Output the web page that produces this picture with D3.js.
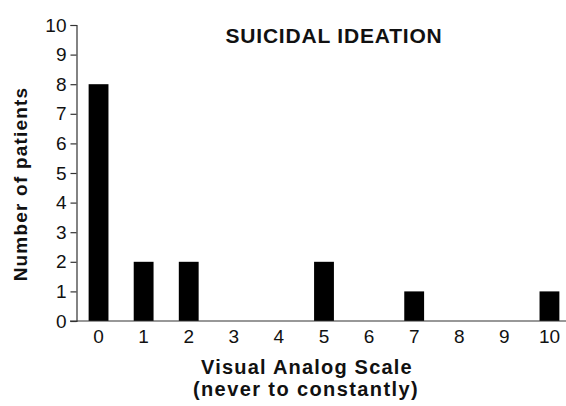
<!DOCTYPE html>
<html>
<head>
<meta charset="utf-8">
<script src="https://d3js.org/d3.v7.min.js"></script>
<style>
  body { margin: 0; background: #fff; }
  text { font-family: "Liberation Sans", Arial, sans-serif; }
</style>
</head>
<body>
<div id="chart"></div>
<script>
// data
var scores = ["0", "1", "2", "3", "4", "5", "6", "7", "8", "9", "10"]
var patients = [8, 2, 2, 0, 0, 2, 0, 1, 0, 0, 1]
var yTicks = [0, 1, 2, 3, 4, 5, 6, 7, 8, 9, 10]

var width = 566,
    height = 406

var svg = d3.select("#chart")
  .append("svg")
    .attr("width", width)
    .attr("height", height)

var x = d3.scaleBand()
    .domain(scores)
    .range([76, 572])
    .paddingInner(0.56)
    .paddingOuter(0.28)

var y = d3.scaleLinear()
    .domain([0, 10])
    .range([321, 25])

// bars
svg.selectAll(".bar")
  .data(scores)
  .enter()
  .append("rect")
    .attr("class", "bar")
    .attr("x", d => x(d))
    .attr("width", x.bandwidth())
    .attr("y", (d, i) => y(patients[i]))
    .attr("height", (d, i) => y(0) - y(patients[i]))
    .attr("fill", "#000")

// y axis
var yAxis = svg.append("g")
    .attr("transform", "translate(76.5,0)")
    .call(d3.axisLeft(y).tickValues(yTicks).tickSize(6).tickPadding(4))
yAxis.select(".domain").attr("stroke", "#333").attr("stroke-width", 1.2)
yAxis.selectAll(".tick line").attr("stroke", "#333").attr("stroke-width", 1.2)
yAxis.selectAll("text")
    .style("font-size", "19px")
    .attr("fill", "#111")

// x axis line (extends a bit left of y axis)
svg.append("line")
    .attr("x1", 70).attr("x2", 566)
    .attr("y1", y(0)).attr("y2", y(0))
    .attr("stroke", "#333").attr("stroke-width", 1.2)

// x tick labels
svg.selectAll(".xlab")
  .data(scores)
  .enter()
  .append("text")
    .attr("class", "xlab")
    .attr("x", d => x(d) + x.bandwidth() / 2)
    .attr("y", 343)
    .attr("text-anchor", "middle")
    .style("font-size", "19px")
    .attr("fill", "#111")
    .text(d => d)

// axis titles
svg.append("text")
    .attr("x", 307).attr("y", 374)
    .attr("text-anchor", "middle")
    .style("font-size", "20px")
    .style("font-weight", "bold")
    .style("letter-spacing", "1.2px")
    .attr("fill", "#111")
    .text("Visual Analog Scale")

svg.append("text")
    .attr("x", 306).attr("y", 396)
    .attr("text-anchor", "middle")
    .style("font-size", "20px")
    .style("font-weight", "bold")
    .style("letter-spacing", "1.4px")
    .attr("fill", "#111")
    .text("(never to constantly)")

svg.append("text")
    .attr("transform", "translate(27,184) rotate(-90)")
    .attr("text-anchor", "middle")
    .style("font-size", "19px")
    .style("font-weight", "bold")
    .style("letter-spacing", "1.2px")
    .attr("fill", "#111")
    .text("Number of patients")

// chart title
svg.append("text")
    .attr("x", 334).attr("y", 43)
    .attr("text-anchor", "middle")
    .style("font-size", "21px")
    .style("font-weight", "bold")
    .style("letter-spacing", "0.8px")
    .attr("fill", "#111")
    .text("SUICIDAL IDEATION")
</script>
</body>
</html>
